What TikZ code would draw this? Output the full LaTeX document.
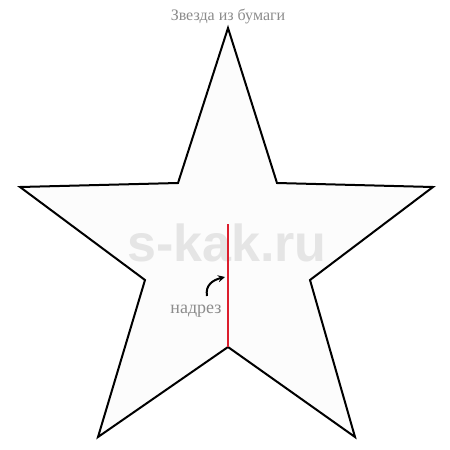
\documentclass[tikz,border=0pt]{standalone}
\usepackage{fontspec}
\setmainfont{Liberation Serif}
\newfontfamily\wmfont{Liberation Sans}
\usetikzlibrary{arrows.meta}
\definecolor{cutred}{RGB}{220,30,45}
\tikzset{
  starline/.style={draw=black, line width=2pt, line join=miter, fill=white!99!black},
  cutline/.style={draw=cutred, line width=2pt},
  graytext/.style={text=black!45, inner sep=0pt},
}
\begin{document}
\begin{tikzpicture}[x=1pt,y=-1pt]
\useasboundingbox (0,0) rectangle (450,450);
\fill[white] (0,0) rectangle (450,450);
\coordinate (T) at (228,28);
\coordinate (UL) at (178,183);
\coordinate (L) at (20,187);
\coordinate (LL) at (145,280);
\coordinate (BL) at (98,437);
\coordinate (B) at (228,347);
\coordinate (BR) at (355,437);
\coordinate (RL) at (310,280);
\coordinate (R) at (433,187);
\coordinate (UR) at (277,183);
\draw[starline] (T) -- (UL) -- (L) -- (LL) -- (BL) -- (B) -- (BR) -- (RL) -- (R) -- (UR) -- cycle;
\node[text=black!10, inner sep=0pt, font=\wmfont\bfseries\fontsize{52}{52}\selectfont] (wm) at (227,243) {s-kak.ru};
\coordinate (cuttop) at (228,224);
\draw[cutline] (cuttop) -- (B);
\node[graytext, font=\fontsize{16}{16}\selectfont] (title) at (228,16) {Звезда из бумаги};
\node[graytext, font=\fontsize{18}{18}\selectfont] (cut) at (196,311) {надрез};
\coordinate (a1) at (207,296);
\coordinate (a2) at (225,277);
\draw[line width=2pt, -{Stealth[length=7pt,width=7pt]}] (a1) .. controls (205,285) and (213,280) .. (a2);
\end{tikzpicture}
\end{document}
